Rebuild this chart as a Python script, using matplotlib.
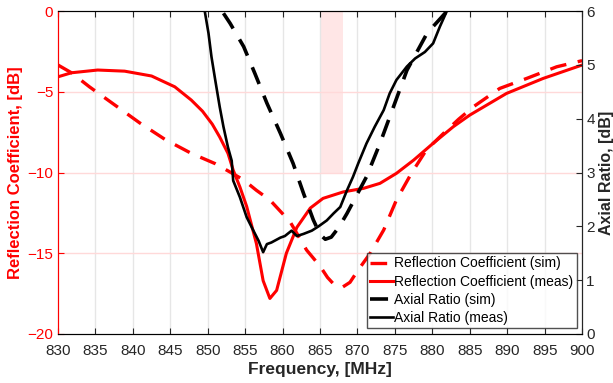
import numpy as np
import matplotlib
matplotlib.use('Agg')
import matplotlib.pyplot as plt

plt.rcParams['font.family'] = ['Liberation Sans', 'DejaVu Sans']

# reflection coefficient, simulated
f_s11_sim = [830, 831.8, 834.2, 837.6, 840.9, 844.3, 847.8, 851.0, 853.1, 854.8, 856.5, 858.3, 861.0, 863.2,
             865.0, 866.0, 867.0, 868.0, 869.0, 870.0, 871.7, 873.5, 875.2, 877.2, 879.2, 881.5,
             883.5, 885.5, 889.0, 892.6, 896.6, 900]
s11_sim = [-3.34, -3.82, -4.69, -5.82, -6.92, -7.95, -8.81, -9.45, -10.0, -10.46, -11.1, -11.7, -13.05, -14.8,
           -15.8, -16.5, -17.0, -17.1, -16.8, -16.1, -15.0, -13.56, -11.7, -10.05, -8.6, -7.57,
           -6.7, -5.92, -4.79, -4.17, -3.45, -3.07]

# reflection coefficient, measured
f_s11_meas = [830, 831.8, 835.3, 838.9, 842.5, 845.6, 847.8, 849.3, 850.6, 851.6, 852.7, 853.4, 854.3, 855.2,
              856.5, 857.4, 858.3, 859.2, 860.5, 861.9, 863.7, 865.4, 868.1, 870.8, 873.0, 875.2, 877.5,
              880.1, 882.8, 885.0, 889.9, 894.8, 900]
s11_meas = [-4.07, -3.82, -3.65, -3.72, -4.02, -4.69, -5.51, -6.2, -7.0, -7.8, -8.81, -9.85, -10.9, -12.1,
            -14.4, -16.7, -17.8, -17.3, -15.0, -13.4, -12.2, -11.6, -11.2, -10.98, -10.67, -10.05, -9.23,
            -8.19, -7.16, -6.44, -5.1, -4.17, -3.34]

# axial ratio, simulated
f_ar_sim = [852.1, 853.0, 854.8, 856.3, 857.9, 859.7, 861.4, 862.8, 864.1, 865.0, 865.7, 866.5, 867.5, 868.6,
            871.2, 873.0, 874.8, 876.6, 879.3, 881.9]
ar_sim = [5.96, 5.77, 5.34, 4.84, 4.29, 3.73, 3.17, 2.61, 2.12, 1.85, 1.76, 1.80, 1.98, 2.24,
          2.92, 3.54, 4.22, 4.9, 5.59, 5.99]

# axial ratio, measured
f_ar_meas = [849.6, 850.1, 850.5, 851.0, 851.6, 852.1, 852.7, 853.2, 853.4, 854.3, 855.2, 856.1, 856.8, 857.4,
             857.9, 858.5, 859.7, 860.3, 861.2, 861.9, 862.8, 863.9, 864.8, 865.9, 866.8, 867.7, 868.6,
             869.4, 870.1, 871.2, 872.3, 873.5, 874.3, 875.2, 876.6, 877.7, 879.0, 880.1, 881.0, 881.9]
ar_meas = [6.0, 5.59, 5.15, 4.72, 4.22, 3.85, 3.47, 3.22, 2.85, 2.54, 2.17, 1.92, 1.73, 1.52,
           1.67, 1.70, 1.79, 1.82, 1.92, 1.82, 1.86, 1.92, 2.0, 2.11, 2.24, 2.36, 2.67,
           2.92, 3.17, 3.54, 3.85, 4.16, 4.47, 4.72, 4.97, 5.12, 5.24, 5.40, 5.71, 5.99]

band = [865, 868]
band_top, band_bottom = 0, -10

xticks = list(range(830, 901, 5))
red = '#ff0000'
dark = '#262626'

fig = plt.figure(figsize=(6.13, 3.83), dpi=100)
ax = fig.add_axes([0.0946, 0.128, 0.855, 0.843])
ax2 = ax.twinx()

ax.fill_between(band, band_bottom, band_top, color='#ffe6e6', lw=0, zorder=0)
for x in xticks[1:-1]:
    ax.axvline(x, color='#e6e6e6', lw=1, zorder=0.5)
for y in [-5, -10, -15]:
    ax.axhline(y, color='#ffd9d9', lw=1, zorder=0.5)

ax.plot(f_s11_sim, s11_sim, color=red, lw=2.4, ls=(0, (5, 3.5)), label='Reflection Coefficient (sim)')
ax.plot(f_s11_meas, s11_meas, color=red, lw=2.2, label='Reflection Coefficient (meas)')
l3, = ax2.plot(f_ar_sim, ar_sim, color='k', lw=2.6, ls=(0, (5, 3.5)), label='Axial Ratio (sim)')
l4, = ax2.plot(f_ar_meas, ar_meas, color='k', lw=1.9, label='Axial Ratio (meas)')

ax.set_xlim(830, 900)
ax.set_ylim(-20, 0)
ax2.set_ylim(0, 6)
ax.set_xticks(xticks)
ax.set_yticks([-20, -15, -10, -5, 0])
ax2.set_yticks(range(0, 7))

ax.tick_params(axis='x', direction='in', length=4, labelsize=11, colors=dark, top=True, pad=7)
ax.tick_params(axis='y', direction='in', length=4, labelsize=11, colors=red)
ax2.tick_params(axis='y', direction='in', length=4, labelsize=11, colors=dark, pad=3)
ax.spines['left'].set_color(red)
for s in ['top', 'bottom']:
    ax.spines[s].set_color(dark)
ax2.spines['left'].set_color(red)
ax2.spines['right'].set_color(dark)

ax.set_xlabel('Frequency, [MHz]', fontsize=12.5, fontweight='bold', color=dark, labelpad=3)
ax.set_ylabel('Reflection Coefficient, [dB]', fontsize=12, fontweight='bold', color=red, labelpad=3)
ax2.set_ylabel('Axial Ratio, [dB]', fontsize=11.5, fontweight='bold', color=dark, labelpad=3)

h1, lab1 = ax.get_legend_handles_labels()
leg = ax2.legend(h1 + [l3, l4], lab1 + ['Axial Ratio (sim)', 'Axial Ratio (meas)'],
                 loc='lower right', fontsize=10, frameon=True, fancybox=False,
                 edgecolor=dark, handlelength=1.6, handletextpad=0.1, borderpad=0.25,
                 labelspacing=0.3, borderaxespad=0.4)
leg.get_frame().set_linewidth(1.0)

fig.savefig('out.png', dpi=100)
